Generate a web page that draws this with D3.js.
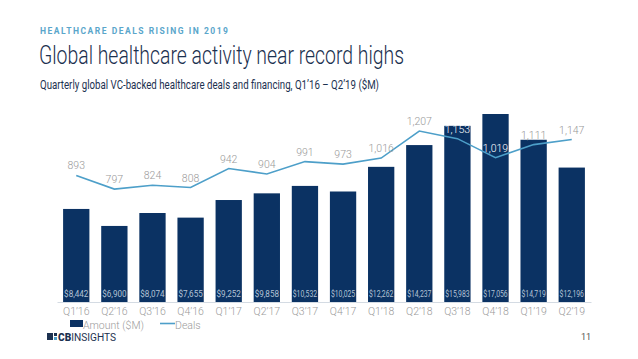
<!DOCTYPE html>
<html><head><meta charset="utf-8">
<script src="https://cdn.jsdelivr.net/npm/d3@7"></script>
<style>
html,body{margin:0;padding:0;background:#fff;}
svg{display:block;font-family:Roboto,"Noto Sans",sans-serif;}
</style></head>
<body>
<svg id="c" width="638" height="359"></svg>
<script>
const quarters = ["Q1’16","Q2’16","Q3’16","Q4’16","Q1’17","Q2’17","Q3’17","Q4’17","Q1’18","Q2’18","Q3’18","Q4’18","Q1’19","Q2’19"];
const amounts = [8442,6900,8074,7655,9252,9858,10532,10025,12262,14237,15983,17056,14719,12196];
const deals = [893,797,824,808,942,904,991,973,1016,1207,1153,1019,1111,1147];

const barColor = "#0b3263", lineColor = "#4d9fc9", navy = "#1c3150";
const svg = d3.select("#c");

// headings
svg.append("text").attr("x",40).attr("y",34).text("HEALTHCARE DEALS RISING IN 2019")
  .attr("fill","#5aa6cb").attr("font-size",8.5).attr("font-weight",700)
  .attr("textLength",188).attr("lengthAdjust","spacing");
svg.append("text").attr("x",39).attr("y",64).text("Global healthcare activity near record highs")
  .attr("fill",navy).attr("font-size",26).attr("font-weight",300)
  .attr("textLength",365).attr("lengthAdjust","spacingAndGlyphs");
svg.append("text").attr("x",40).attr("y",89).text("Quarterly global VC-backed healthcare deals and financing, Q1’16 – Q2’19 ($M)")
  .attr("fill",navy).attr("font-size",13.5).attr("font-weight",400)
  .attr("textLength",339).attr("lengthAdjust","spacingAndGlyphs");

// scales
const x = d3.scaleBand().domain(quarters).range([57,591]).paddingInner(0.31).paddingOuter(0.16);
const yA = d3.scaleLinear().domain([0,17056]).range([302,114]);
const yD = d3.scaleLinear().domain([0,1207]).range([302,131]);

const g = svg.append("g");
g.selectAll("rect.bar").data(amounts).join("rect").attr("class","bar")
  .attr("x",(d,i)=>x(quarters[i])).attr("width",x.bandwidth())
  .attr("y",d=>yA(d)).attr("height",d=>yA(0)-yA(d)).attr("fill",barColor);

// axis
const xAxis = d3.axisBottom(x).tickSize(0).tickPadding(6);
const ax = g.append("g").attr("transform","translate(0,302)").call(xAxis);
ax.select(".domain").attr("stroke","#d4dbe3").attr("stroke-width",1);
ax.selectAll("text").attr("fill","#9a9a9a").attr("font-size",10.5).attr("font-family","Roboto,sans-serif").attr("font-weight",300);

// bar value labels
g.selectAll("text.amt").data(amounts).join("text").attr("class","amt")
  .attr("x",(d,i)=>x(quarters[i])+x.bandwidth()/2).attr("y",297)
  .attr("text-anchor","middle").attr("font-size",8.5).attr("fill","#b3c2d5")
  .attr("textLength",x.bandwidth()-2).attr("lengthAdjust","spacingAndGlyphs")
  .text(d=>"$"+d3.format(",")(d));

// line
const line = d3.line().x((d,i)=>x(quarters[i])+x.bandwidth()/2).y(d=>yD(d));
g.append("path").datum(deals).attr("d",line).attr("fill","none").attr("stroke",lineColor).attr("stroke-width",1.6);

// deal labels
g.selectAll("text.deal").data(deals).join("text").attr("class","deal")
  .attr("x",(d,i)=>x(quarters[i])+x.bandwidth()/2).attr("y",d=>yD(d)-6)
  .attr("text-anchor","middle").attr("font-size",10.5).attr("font-weight",300)
  .attr("fill",(d,i)=> (yD(d)-10 > yA(amounts[i])) ? "#ffffff" : "#999999")
  .text(d=>d3.format(",")(d));

// legend
const lg = svg.append("g");
lg.append("rect").attr("x",70).attr("y",320).attr("width",13).attr("height",7).attr("fill",barColor);
lg.append("text").attr("x",83).attr("y",328.5).text("Amount ($M)").attr("fill","#9a9a9a").attr("font-size",10.5).attr("font-weight",300);
lg.append("line").attr("x1",160).attr("x2",175).attr("y1",323.5).attr("y2",323.5).attr("stroke",lineColor).attr("stroke-width",1.6);
lg.append("text").attr("x",175).attr("y",328.5).text("Deals").attr("fill","#9a9a9a").attr("font-size",10.5).attr("font-weight",300);

// logo
const lo = svg.append("g");
lo.append("rect").attr("x",47).attr("y",333).attr("width",6).attr("height",7).attr("fill",navy);
lo.append("rect").attr("x",54).attr("y",333).attr("width",3).attr("height",3).attr("fill",navy);
lo.append("rect").attr("x",54).attr("y",337).attr("width",3).attr("height",3).attr("fill","#4d9fc9");
const lt = lo.append("text").attr("x",58).attr("y",340.5).attr("font-size",10).attr("fill",navy)
  .attr("textLength",58).attr("lengthAdjust","spacingAndGlyphs");
lt.append("tspan").attr("font-weight",900).text("CB");
lt.append("tspan").attr("font-weight",400).text("INSIGHTS");

svg.append("text").attr("x",586).attr("y",340).attr("text-anchor","middle").attr("font-size",9).attr("fill","#555").text("11");
</script>
</body></html>
